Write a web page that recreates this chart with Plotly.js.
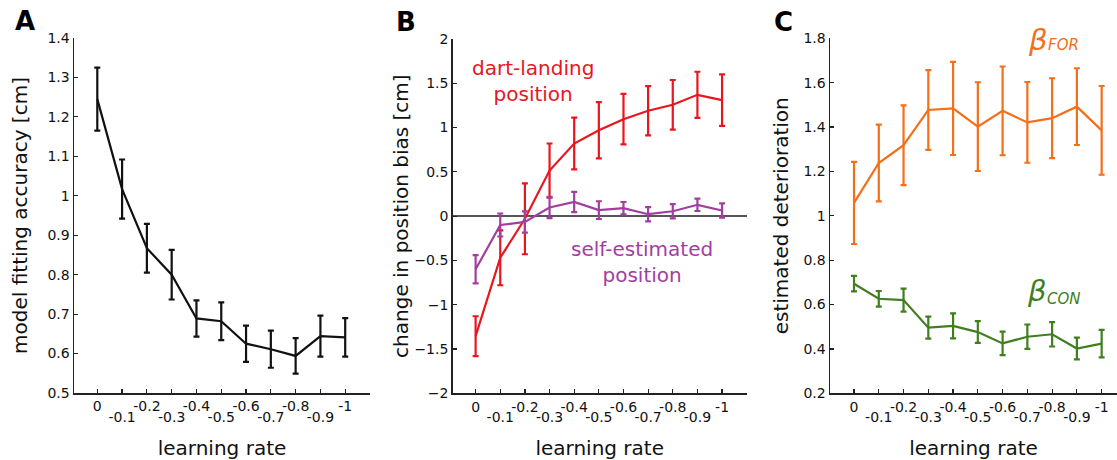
<!DOCTYPE html>
<html>
<head>
<meta charset="utf-8">
<script src="https://cdn.plot.ly/plotly-3.0.1.min.js"></script>
<style>html,body{margin:0;padding:0;background:#fff;}#chart{width:1117px;height:460px;}</style>
</head>
<body>
<div id="chart"></div>
<script>
// ---------- data ----------
const learningRate = [0, -0.1, -0.2, -0.3, -0.4, -0.5, -0.6, -0.7, -0.8, -0.9, -1];

// Panel A: model fitting accuracy [cm]
const fitAccuracy    = [1.245, 1.017, 0.867, 0.800, 0.689, 0.682, 0.625, 0.611, 0.594, 0.644, 0.641];
const fitAccuracyErr = [0.080, 0.075, 0.062, 0.063, 0.046, 0.048, 0.046, 0.047, 0.045, 0.052, 0.049];

// Panel B: change in position bias [cm]
const dartBias       = [-1.355, -0.47, -0.03, 0.515, 0.82, 0.97, 1.095, 1.19, 1.257, 1.37, 1.31];
const dartBiasErr    = [0.225, 0.31, 0.40, 0.305, 0.293, 0.318, 0.285, 0.277, 0.28, 0.26, 0.29];
const selfBias       = [-0.60, -0.10, -0.065, 0.098, 0.16, 0.068, 0.09, 0.022, 0.055, 0.128, 0.064];
const selfBiasErr    = [0.16, 0.13, 0.12, 0.12, 0.115, 0.10, 0.07, 0.08, 0.08, 0.07, 0.08];

// Panel C: estimated deterioration
const betaFor        = [1.058, 1.238, 1.318, 1.477, 1.484, 1.402, 1.473, 1.421, 1.440, 1.492, 1.385];
const betaForErr     = [0.185, 0.173, 0.180, 0.180, 0.210, 0.200, 0.200, 0.182, 0.180, 0.173, 0.200];
const betaCon        = [0.694, 0.626, 0.620, 0.496, 0.504, 0.476, 0.425, 0.455, 0.466, 0.402, 0.424];
const betaConErr     = [0.035, 0.035, 0.052, 0.050, 0.056, 0.049, 0.053, 0.055, 0.055, 0.049, 0.062];

// tick labels
const xTickEvenText = ['0', '', '-0.2', '', '-0.4', '', '-0.6', '', '-0.8', '', '-1'];
const xTickOddVals  = [-0.1, -0.3, -0.5, -0.7, -0.9];
const xTickOddText  = ['-0.1', '-0.3', '-0.5', '-0.7', '-0.9'];
const yTickValsA = [0.5, 0.6, 0.7, 0.8, 0.9, 1.0, 1.1, 1.2, 1.3, 1.4];
const yTickTextA = ['0.5', '0.6', '0.7', '0.8', '0.9', '1', '1.1', '1.2', '1.3', '1.4'];
const yTickValsB = [-2, -1.5, -1, -0.5, 0, 0.5, 1, 1.5, 2];
const yTickTextB = ['\u22122', '\u22121.5', '\u22121', '\u22120.5', '0', '0.5', '1', '1.5', '2'];
const yTickValsC = [0.2, 0.4, 0.6, 0.8, 1.0, 1.2, 1.4, 1.6, 1.8];
const yTickTextC = ['0.2', '0.4', '0.6', '0.8', '1', '1.2', '1.4', '1.6', '1.8'];

// ---------- style ----------
const FONT = 'DejaVu Sans, Arial, sans-serif';
const COL = {black: '#111111', red: '#e8161e', purple: '#a23ea0', orange: '#f46f17', green: '#3f7f1e'};
const W = 1117, H = 460;

function series(y, err, color, xa, ya) {
  return {
    type: 'scatter', mode: 'lines', x: learningRate, y: y,
    xaxis: xa, yaxis: ya, showlegend: false, hoverinfo: 'x+y',
    line: {color: color, width: 2.2},
    error_y: {type: 'data', array: err, visible: true, color: color, thickness: 2.2, width: 3}
  };
}
function dummy(xa, ya) {
  return {type: 'scatter', mode: 'lines', x: [], y: [], xaxis: xa, yaxis: ya, showlegend: false, hoverinfo: 'skip'};
}

const data = [
  series(fitAccuracy, fitAccuracyErr, COL.black, 'x', 'y'),
  series(dartBias, dartBiasErr, COL.red, 'x2', 'y2'),
  series(selfBias, selfBiasErr, COL.purple, 'x2', 'y2'),
  series(betaFor, betaForErr, COL.orange, 'x3', 'y3'),
  series(betaCon, betaConErr, COL.green, 'x3', 'y3'),
  dummy('x4', 'y'), dummy('x5', 'y2'), dummy('x6', 'y3')
];

const tickFont = {family: FONT, size: 14, color: '#111'};
const titleFont = {family: FONT, size: 20, color: '#111'};

function px(a, b) { return [a / W, b / W]; }
function py(top, bottom) { return [1 - bottom / H, 1 - top / H]; }

function xMain(dom, range, anchor) {
  return {
    domain: dom, range: range, anchor: anchor, fixedrange: true,
    showline: true, linecolor: '#222', linewidth: 1.5, mirror: false,
    showgrid: false, zeroline: false,
    ticks: 'inside', ticklen: 4, tickwidth: 1.2, tickcolor: '#222',
    tickmode: 'array', tickvals: learningRate, ticktext: xTickEvenText,
    tickfont: tickFont
  };
}
function xOdd(over, range, anchor) {
  return {
    overlaying: over, range: range, anchor: anchor, side: 'bottom', fixedrange: true,
    showline: false, showgrid: false, zeroline: false, ticks: '',
    tickmode: 'array', tickvals: xTickOddVals, ticktext: xTickOddText,
    tickfont: tickFont, ticklabelstandoff: 14,
    title: {text: 'learning rate', font: titleFont, standoff: 19}
  };
}
function yMain(dom, range, anchor, vals, text, title, standoff, extra) {
  return Object.assign({
    domain: dom, range: range, anchor: anchor, fixedrange: true,
    showline: true, linecolor: '#222', linewidth: 1.5,
    showgrid: false, zeroline: false,
    ticks: 'inside', ticklen: 4, tickwidth: 1.2, tickcolor: '#222',
    tickmode: 'array', tickvals: vals, ticktext: text, tickfont: tickFont,
    title: {text: title, font: titleFont, standoff: standoff}
  }, extra || {});
}

const rangeA = [0.094, -1.1], rangeB = [0.093, -1.1], rangeC = [0.097, -1.062];

const layout = {
  width: W, height: H,
  margin: {l: 0, r: 0, t: 0, b: 0},
  paper_bgcolor: '#fff', plot_bgcolor: 'rgba(0,0,0,0)',
  font: {family: FONT, color: '#111'},
  showlegend: false,
  xaxis:  xMain(px(74, 370), rangeA, 'y'),
  xaxis2: xMain(px(452.7, 746.7), rangeB, 'y2'),
  xaxis3: xMain(px(830, 1117), rangeC, 'y3'),
  xaxis4: xOdd('x', rangeA, 'y'),
  xaxis5: xOdd('x2', rangeB, 'y2'),
  xaxis6: xOdd('x3', rangeC, 'y3'),
  yaxis:  yMain(py(38, 393), [0.5, 1.4], 'x', yTickValsA, yTickTextA, 'model fitting accuracy [cm]', 14),
  yaxis2: yMain(py(39, 393.3), [-2, 2], 'x2', yTickValsB, yTickTextB, 'change in position bias [cm]', 0,
                {zeroline: true, zerolinecolor: '#555', zerolinewidth: 1.4}),
  yaxis3: yMain(py(38.3, 393.3), [0.2, 1.8], 'x3', yTickValsC, yTickTextC, 'estimated deterioration', 9),
  annotations: [
    {text: '<b>A</b>', xref: 'paper', yref: 'paper', x: 25 / W, y: 1 - 21 / H, xanchor: 'center', yanchor: 'middle', showarrow: false, font: {family: FONT, size: 26, color: '#000'}},
    {text: '<b>B</b>', xref: 'paper', yref: 'paper', x: 406 / W, y: 1 - 22 / H, xanchor: 'center', yanchor: 'middle', showarrow: false, font: {family: FONT, size: 26, color: '#000'}},
    {text: '<b>C</b>', xref: 'paper', yref: 'paper', x: 783 / W, y: 1 - 22 / H, xanchor: 'center', yanchor: 'middle', showarrow: false, font: {family: FONT, size: 26, color: '#000'}},
    {text: 'dart-landing<br>position', xref: 'x2', yref: 'y2', x: -0.232, y: 1.53, xanchor: 'center', yanchor: 'middle', showarrow: false, font: {family: FONT, size: 20, color: COL.red}},
    {text: 'self-estimated<br>position', xref: 'x2', yref: 'y2', x: -0.674, y: -0.52, xanchor: 'center', yanchor: 'middle', showarrow: false, font: {family: FONT, size: 20, color: COL.purple}},
    {text: '<i>β</i>', xref: 'paper', yref: 'paper', x: 1050 / W, y: 1 - 40 / H, xanchor: 'right', yanchor: 'middle', showarrow: false, font: {family: FONT, size: 29, color: COL.orange}},
    {text: '<i>FOR</i>', xref: 'paper', yref: 'paper', x: 1046 / W, y: 1 - 45 / H, xanchor: 'left', yanchor: 'middle', showarrow: false, font: {family: FONT, size: 15, color: COL.orange}},
    {text: '<i>β</i>', xref: 'paper', yref: 'paper', x: 1049 / W, y: 1 - 291 / H, xanchor: 'right', yanchor: 'middle', showarrow: false, font: {family: FONT, size: 29, color: COL.green}},
    {text: '<i>CON</i>', xref: 'paper', yref: 'paper', x: 1045 / W, y: 1 - 299 / H, xanchor: 'left', yanchor: 'middle', showarrow: false, font: {family: FONT, size: 15, color: COL.green}}
  ]
};

Plotly.newPlot('chart', data, layout, {displayModeBar: false, staticPlot: true});
</script>
</body>
</html>
